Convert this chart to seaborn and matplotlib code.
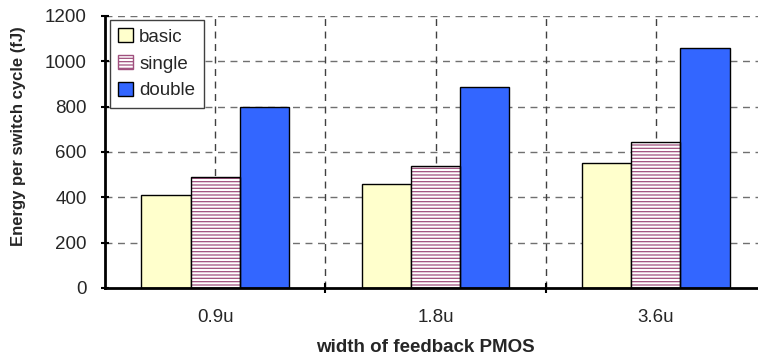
import matplotlib
matplotlib.use("Agg")
import matplotlib.pyplot as plt
import seaborn as sns
import pandas as pd
from matplotlib.patches import Patch

# Energy per switch cycle (fJ) for each feedback PMOS width
widths = ["0.9u", "1.8u", "3.6u"]
series = ["basic", "single", "double"]
basic = [410, 460, 550]
single = [490, 540, 645]
double = [800, 885, 1060]

y_ticks = [0, 200, 400, 600, 800, 1000, 1200]

fill_colors = {"basic": "#FFFFCC", "single": "#FFFFFF", "double": "#3366FF"}
hatch_color = "#A0507E"

df = pd.DataFrame({
    "width": widths * 3,
    "series": ["basic"] * 3 + ["single"] * 3 + ["double"] * 3,
    "energy": basic + single + double,
})

sns.set_theme(style="white")
plt.rcParams["font.family"] = ["Liberation Sans", "DejaVu Sans"]
plt.rcParams["hatch.linewidth"] = 0.9

fig = plt.figure(figsize=(7.58, 3.58), dpi=100)
ax = fig.add_axes([105 / 758, 1 - 288 / 358, 661 / 758, 272 / 358])

sns.barplot(data=df, x="width", y="energy", hue="series", order=widths,
            hue_order=series, palette=fill_colors, width=0.67, gap=0,
            edgecolor="black", linewidth=1.0, ax=ax, legend=False,
            errorbar=None, saturation=1)

# Horizontal hatching for the "single" series
n = len(widths)
single_bars = ax.patches[n:2 * n]
for p in single_bars:
    p.set_hatch("-----")
    p.set_edgecolor(hatch_color)
    p.set_linewidth(0.0)
    ax.add_patch(plt.Rectangle(p.get_xy(), p.get_width(), p.get_height(),
                               fill=False, edgecolor="black", linewidth=1.0,
                               zorder=p.get_zorder() + 0.1))

ax.set_xlim(-0.5, 2.5)
ax.set_ylim(0, 1200)
ax.set_yticks(y_ticks)
ax.set_yticklabels([str(v) for v in y_ticks], fontsize=13.5)

# Category labels at group centers, separator ticks between groups
ax.set_xticks([0.5, 1.5])
ax.set_xticklabels([])
ax.set_xticks(range(n), minor=True)
ax.set_xticklabels(widths, minor=True, fontsize=13.5)
ax.tick_params(axis="x", which="major", direction="inout", length=7,
               width=1.5, color="black", bottom=True)
ax.tick_params(axis="x", which="minor", length=0, pad=15)
ax.tick_params(axis="y", direction="inout", length=6, width=1.5,
               color="black", left=True, pad=10)

# Dashed grid: every 200 fJ and every half category
for v in y_ticks[1:]:
    ax.axhline(v, color="#707070", linestyle=(0, (5, 4)), linewidth=1.0,
               zorder=0.5)
for xv in [0, 0.5, 1, 1.5, 2]:
    ax.axvline(xv, color="#404040", linestyle=(0, (5, 4)), linewidth=1.0,
               zorder=0.5)

for side in ["top", "right"]:
    ax.spines[side].set_visible(False)
for side in ["left", "bottom"]:
    ax.spines[side].set_color("black")
    ax.spines[side].set_linewidth(2.0)

ax.set_xlabel("width of feedback PMOS", fontsize=13.5, fontweight="bold")
ax.xaxis.set_label_coords(0.5 - 10 / 661, -51 / 272)
ax.set_ylabel("Energy per switch cycle (fJ)", fontsize=12, fontweight="bold")
ax.yaxis.set_label_coords(-79 / 661, 0.5 + 16 / 272)

handles = [
    Patch(facecolor=fill_colors["basic"], edgecolor="black", label="basic"),
    Patch(facecolor="white", edgecolor=hatch_color, hatch="-----",
          label="single"),
    Patch(facecolor=fill_colors["double"], edgecolor="black", label="double"),
]
leg = ax.legend(handles=handles, loc="upper left",
                bbox_to_anchor=(5 / 661, 268 / 272), fontsize=13.5,
                frameon=True, fancybox=False, framealpha=1,
                edgecolor="#404040", handlelength=0.75, handleheight=0.75,
                handletextpad=0.35, borderpad=0.45, labelspacing=0.5,
                borderaxespad=0)
leg.get_frame().set_linewidth(1.0)

fig.savefig("out.png", dpi=100)
